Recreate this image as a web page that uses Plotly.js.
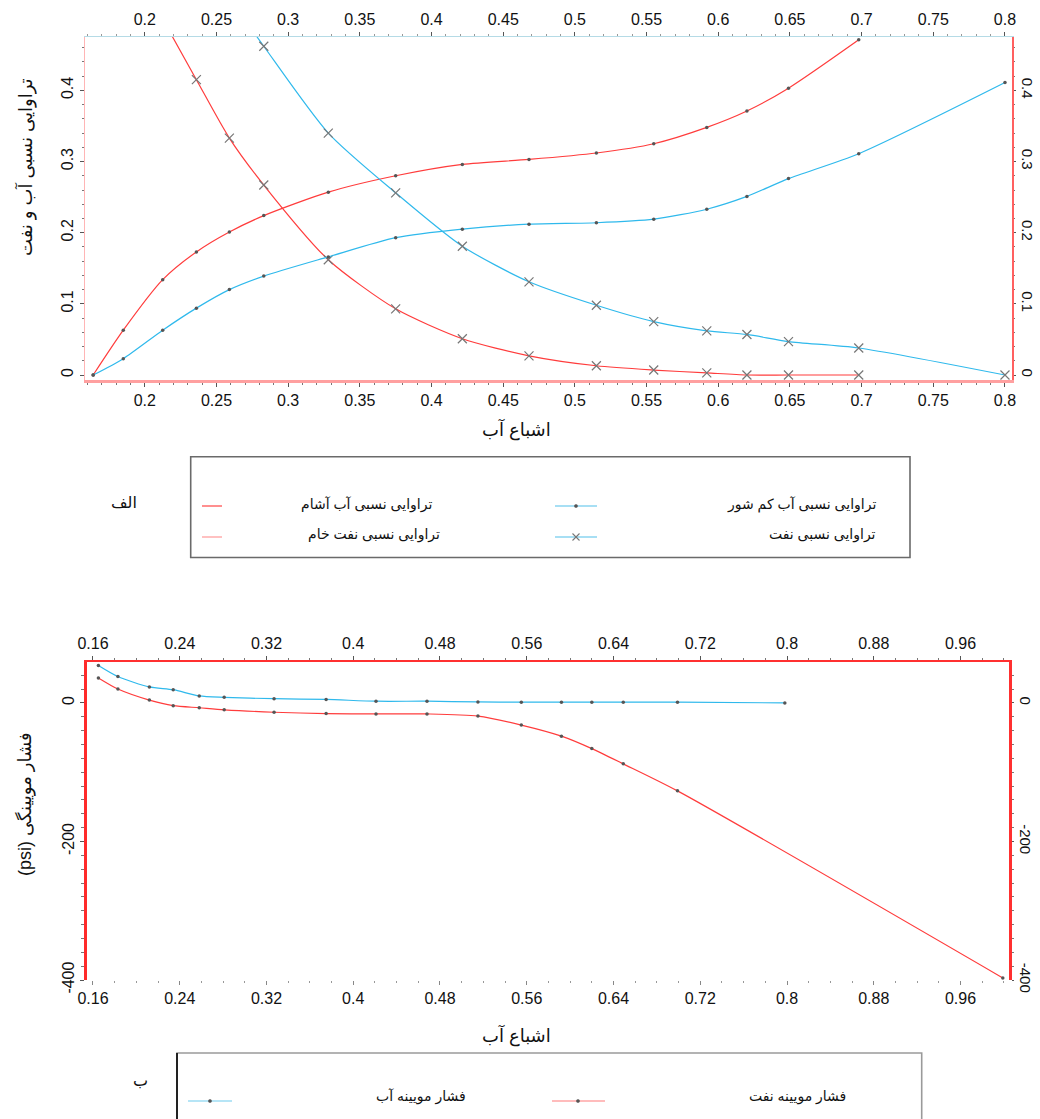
<!DOCTYPE html>
<html>
<head>
<meta charset="utf-8">
<script src="https://cdn.plot.ly/plotly-3.0.1.min.js"></script>
<style>
  html, body { margin: 0; padding: 0; background: #ffffff; }
  #chart { width: 1040px; height: 1119px; }
</style>
</head>
<body>
<div id="chart"></div>
<script>
// ---------------- DATA ----------------
// Top panel (الف): relative permeability vs water saturation
const swBrine = [0.164, 0.185, 0.2125, 0.236, 0.259, 0.283, 0.328, 0.375, 0.4215, 0.468, 0.515, 0.555, 0.592, 0.62, 0.649, 0.698, 0.8];
const krwBrine = [0, 0.023, 0.063, 0.094, 0.120, 0.139, 0.166, 0.193, 0.205, 0.212, 0.214, 0.219, 0.233, 0.251, 0.276, 0.311, 0.411];

const swFormation = [0.164, 0.185, 0.2125, 0.236, 0.259, 0.283, 0.328, 0.375, 0.4215, 0.468, 0.515, 0.555, 0.592, 0.62, 0.649, 0.698];
const krwFormation = [0, 0.063, 0.134, 0.173, 0.201, 0.224, 0.257, 0.280, 0.296, 0.303, 0.312, 0.325, 0.348, 0.371, 0.403, 0.471];

const swCrude = [0.2125, 0.236, 0.259, 0.283, 0.328, 0.375, 0.4215, 0.468, 0.515, 0.555, 0.592, 0.62, 0.649, 0.698];
const kroCrude = [0.50, 0.415, 0.333, 0.267, 0.162, 0.093, 0.051, 0.027, 0.013, 0.007, 0.003, 0, 0, 0];

const swOil = [0.259, 0.283, 0.328, 0.375, 0.4215, 0.468, 0.515, 0.555, 0.592, 0.62, 0.649, 0.698, 0.8];
const kroOil = [0.53, 0.462, 0.340, 0.256, 0.181, 0.131, 0.098, 0.075, 0.062, 0.057, 0.047, 0.038, 0];

// Bottom panel (ب): capillary pressure vs water saturation
const swPcWater = [0.165, 0.183, 0.212, 0.234, 0.258, 0.281, 0.327, 0.375, 0.421, 0.468, 0.515, 0.555, 0.592, 0.620, 0.649, 0.699, 0.798];
const pcWater = [54, 38, 23, 19, 10, 8, 6, 5, 2.4, 2.4, 1.4, 1, 1, 1, 1, 1, 0];

const swPcOil = [0.165, 0.183, 0.212, 0.234, 0.258, 0.281, 0.327, 0.375, 0.421, 0.468, 0.515, 0.555, 0.592, 0.620, 0.649, 0.699, 0.999];
const pcOil = [36, 20, 4, -4, -7, -10, -13.5, -15.4, -16, -16, -19, -32, -48, -66, -88, -127, -397];

// Text
const nameBrine = 'تراوایی نسبی آب کم شور';
const nameFormation = 'تراوایی نسبی آب آشام';
const nameCrude = 'تراوایی نسبی نفت خام';
const nameOil = 'تراوایی نسبی نفت';
const namePcWater = 'فشار مویینه آب';
const namePcOil = 'فشار مویینه نفت';
const titleSw = 'اشباع آب';
const titleKr = 'تراوایی نسبی آب و نفت';
const titlePc = '\u202Bفشار مویینگی (psi)\u202C';
const panelA = 'الف';
const panelB = 'ب';
const pcTickVals = [0, -200, -400];
const pcTickText = ['0', '-200', '-400'];

// ---------------- STYLE ----------------
const W = 1040, H = 1119;
const px = v => v / W;
const py = v => 1 - v / H;
const FONT = 'Liberation Sans, DejaVu Sans, Arial, sans-serif';
const RED = '#ff3c3c';
const BLUE = '#2fb9ec';

function series(x, y, name, color, symbol, xa, ya) {
  const isDot = symbol === 'circle';
  return {
    type: 'scatter', mode: 'lines+markers', x: x, y: y, name: name,
    xaxis: xa, yaxis: ya, showlegend: false, cliponaxis: true,
    line: { color: color, width: 1.2, shape: 'spline', smoothing: 0.7 },
    marker: isDot
      ? { symbol: 'circle', size: 3.5, color: '#555' }
      : { symbol: 'x-thin-open', size: 9, color: '#777', line: { color: '#777', width: 1.2 } }
  };
}
// invisible carrier so that the mirrored (overlaying) axes get drawn
function carrier(x, y, xa, ya) {
  return { type: 'scatter', mode: 'markers', x: x, y: y, xaxis: xa, yaxis: ya,
    showlegend: false, hoverinfo: 'skip', marker: { opacity: 0, size: 1 } };
}

const data = [
  series(swFormation, krwFormation, nameFormation, RED, 'circle', 'x', 'y'),
  series(swCrude, kroCrude, nameCrude, RED, 'x', 'x', 'y'),
  series(swBrine, krwBrine, nameBrine, BLUE, 'circle', 'x', 'y'),
  series(swOil, kroOil, nameOil, BLUE, 'x', 'x', 'y'),
  series(swPcWater, pcWater, namePcWater, BLUE, 'circle', 'x3', 'y3'),
  series(swPcOil, pcOil, namePcOil, RED, 'circle', 'x3', 'y3'),
  carrier(swBrine, krwBrine, 'x2', 'y2'),
  carrier(swPcOil, pcOil, 'x4', 'y4')
];

const tickFont = { family: FONT, size: 16, color: '#111' };
const rightFont = { family: FONT, size: 15, color: '#111' };
const base = { showgrid: false, zeroline: false, ticks: 'outside', ticklen: 4, tickwidth: 1, tickcolor: '#555', tickfont: tickFont };

const topX = [0.1583, 0.8049];
const topY = [-0.007, 0.475];
const botX = [0.1545, 1.0047];
const botY = [-400, 59];

const layout = {
  width: W, height: H,
  margin: { l: 0, r: 0, t: 0, b: 0 },
  paper_bgcolor: '#ffffff', plot_bgcolor: '#ffffff',
  font: { family: FONT, color: '#111' },
  showlegend: false,
  xaxis: Object.assign({}, base, {
    domain: [px(85), px(1012)], anchor: 'y', range: topX, tick0: 0.2, dtick: 0.05,
    showline: true, linecolor: '#ffa0a0', linewidth: 3,
    minor: { ticks: 'outside', ticklen: 2, tick0: 0.2, dtick: 0.01, tickcolor: '#777', showgrid: false }
  }),
  xaxis2: Object.assign({}, base, {
    overlaying: 'x', side: 'top', anchor: 'y2', range: topX, tick0: 0.2, dtick: 0.05,
    showline: true, linecolor: '#b5dbe6', linewidth: 1.5,
    minor: { ticks: 'outside', ticklen: 2, tick0: 0.2, dtick: 0.01, tickcolor: '#999', showgrid: false }
  }),
  yaxis: Object.assign({}, base, {
    domain: [py(380), py(37)], anchor: 'x', range: topY, tick0: 0, dtick: 0.1, tickangle: -90,
    showline: true, linecolor: '#ffb5b5', linewidth: 1.5,
    minor: { ticks: 'outside', ticklen: 2, tick0: 0, dtick: 0.02, tickcolor: '#777', showgrid: false }
  }),
  yaxis2: Object.assign({}, base, {
    overlaying: 'y', side: 'right', anchor: 'x2', range: topY, tick0: 0, dtick: 0.1, tickangle: 90,
    ticklen: 2, tickfont: rightFont,
    showline: true, linecolor: '#ff6060', linewidth: 1.5,
    minor: { ticks: 'outside', ticklen: 1, tick0: 0, dtick: 0.02, tickcolor: '#777', showgrid: false }
  }),
  xaxis3: Object.assign({}, base, {
    domain: [px(87), px(1009)], anchor: 'y3', range: botX, tick0: 0.16, dtick: 0.08,
    showline: false, tickcolor: '#888',
    minor: { ticks: 'outside', ticklen: 2, tick0: 0.16, dtick: 0.02, tickcolor: '#999', showgrid: false }
  }),
  xaxis4: Object.assign({}, base, {
    overlaying: 'x3', side: 'top', anchor: 'y4', range: botX, tick0: 0.16, dtick: 0.08,
    showline: true, linecolor: '#ff3030', linewidth: 2.5,
    minor: { ticks: 'outside', ticklen: 2, tick0: 0.16, dtick: 0.02, tickcolor: '#777', showgrid: false }
  }),
  yaxis3: Object.assign({}, base, {
    domain: [py(980), py(662)], anchor: 'x3', range: botY, tickmode: 'array',
    tickvals: pcTickVals, ticktext: pcTickText, tickangle: -90,
    showline: true, linecolor: '#ff2a2a', linewidth: 3,
    minor: { ticks: 'outside', ticklen: 3, tick0: 0, dtick: 20, tickcolor: '#777', showgrid: false }
  }),
  yaxis4: Object.assign({}, base, {
    overlaying: 'y3', side: 'right', anchor: 'x4', range: botY, tickmode: 'array',
    tickvals: pcTickVals, ticktext: pcTickText, tickangle: 90,
    ticklen: 2, tickfont: rightFont,
    showline: true, linecolor: '#ff3030', linewidth: 2.5,
    minor: { ticks: 'outside', ticklen: 2, tick0: 0, dtick: 20, tickcolor: '#777', showgrid: false }
  }),
  annotations: [],
  shapes: []
};

function ann(text, x, y, opts) {
  layout.annotations.push(Object.assign({
    text: text, xref: 'paper', yref: 'paper', x: px(x), y: py(y),
    xanchor: 'center', yanchor: 'middle', showarrow: false,
    font: { family: FONT, size: 14, color: '#111' }
  }, opts || {}));
}
function seg(x0, y0, x1, y1, color, width) {
  layout.shapes.push({ type: 'line', xref: 'paper', yref: 'paper',
    x0: px(x0), y0: py(y0), x1: px(x1), y1: py(y1), line: { color: color, width: width } });
}
function box(x0, y0, x1, y1, color, width) {
  layout.shapes.push({ type: 'rect', xref: 'paper', yref: 'paper',
    x0: px(x0), y0: py(y0), x1: px(x1), y1: py(y1), line: { color: color, width: width }, fillcolor: 'rgba(0,0,0,0)' });
}
function dot(x, y) {
  layout.shapes.push({ type: 'circle', xref: 'paper', yref: 'paper',
    x0: px(x - 1.6), y0: py(y - 1.6), x1: px(x + 1.6), y1: py(y + 1.6),
    line: { color: '#555', width: 0.5 }, fillcolor: '#555' });
}
function cross(x, y) {
  seg(x - 3.5, y - 3.5, x + 3.5, y + 3.5, '#777', 1.1);
  seg(x - 3.5, y + 3.5, x + 3.5, y - 3.5, '#777', 1.1);
}

// Axis titles
ann(titleSw, 516, 430, { font: { family: FONT, size: 18, color: '#111' } });
ann(titleKr, 26, 167, { textangle: -90, font: { family: FONT, size: 18, color: '#111' } });
ann(titleSw, 516, 1035, { font: { family: FONT, size: 18, color: '#111' } });
ann(titlePc, 25, 804, { textangle: -90, font: { family: FONT, size: 18, color: '#111' } });

// Legend A
box(190.7, 456.7, 910, 557.5, '#6a6a6a', 1.6);
ann(panelA, 124, 502, { font: { family: FONT, size: 16, color: '#111' } });
seg(202, 506, 222, 506, '#ff6a6a', 1.5);
ann(nameFormation, 434, 504, { xanchor: 'right' });
seg(202, 537, 222, 537, '#ffacac', 1.5);
ann(nameCrude, 442, 534, { xanchor: 'right' });
seg(555, 506, 597, 506, '#8ad4f1', 1.5);
dot(576, 506);
ann(nameBrine, 878, 504, { xanchor: 'right' });
seg(555, 537, 597, 537, '#8ad4f1', 1.5);
cross(576, 537);
ann(nameOil, 878, 534, { xanchor: 'right' });

// Legend B
box(177, 1053, 921.7, 1140, '#9a9a9a', 1.6);
seg(177, 1053, 177, 1119, '#222', 2);
ann(panelB, 140, 1080, { font: { family: FONT, size: 16, color: '#111' } });
seg(188, 1101, 232, 1101, '#9edcf3', 1.5);
dot(210, 1101);
ann(namePcWater, 468, 1096, { xanchor: 'right' });
seg(552, 1101, 605, 1101, '#ffa6a6', 1.5);
dot(578, 1101);
ann(namePcOil, 848, 1096, { xanchor: 'right' });

Plotly.newPlot('chart', data, layout, { staticPlot: true, displayModeBar: false });
</script>
</body>
</html>
